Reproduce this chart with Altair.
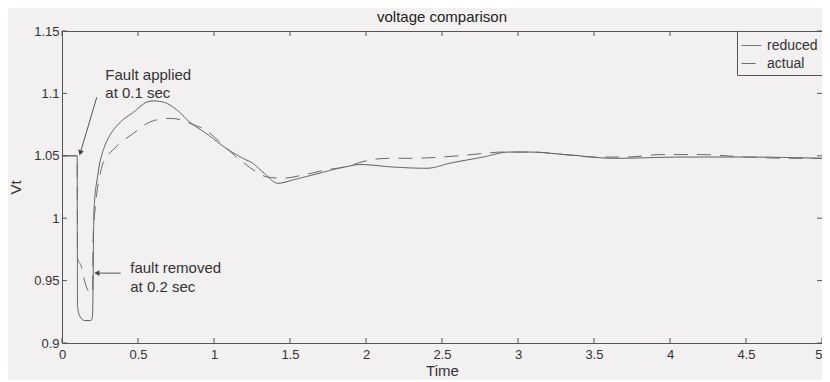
import altair as alt
import pandas as pd

# ---------------- data ----------------
t_reduced = [0, 0.1, 0.102, 0.11, 0.12, 0.15, 0.19, 0.2, 0.205, 0.209, 0.215, 0.23, 0.245,
             0.27, 0.3, 0.34, 0.384, 0.471, 0.558, 0.60, 0.667, 0.753, 0.841, 0.948, 1.08,
             1.19, 1.255, 1.33, 1.42, 1.53, 1.66, 1.86, 1.96, 2.18, 2.4, 2.55, 2.77, 2.94,
             3.07, 3.31, 3.64, 4.08, 4.51, 5.0]
v_reduced = [1.05, 1.05, 0.93, 0.924, 0.921, 0.918, 0.918, 0.921, 0.95, 1.0, 1.015, 1.03, 1.042,
             1.054, 1.063, 1.071, 1.077, 1.085, 1.093, 1.094, 1.093, 1.087, 1.077, 1.068, 1.056,
             1.048, 1.044, 1.036, 1.028, 1.031, 1.035, 1.041, 1.043, 1.041, 1.040, 1.044, 1.049, 1.053,
             1.053, 1.051, 1.048, 1.049, 1.049, 1.048]

t_actual = [0, 0.1, 0.102, 0.125, 0.16, 0.19, 0.2, 0.205, 0.22, 0.25, 0.28, 0.33, 0.37, 0.47,
            0.56, 0.63, 0.70, 0.78, 0.84, 0.94, 1.03, 1.11, 1.2, 1.28, 1.35, 1.45, 1.6, 1.75,
            1.86, 2.0, 2.15, 2.3, 2.5, 2.7, 2.9, 3.1, 3.3, 3.5, 3.7, 3.95, 4.2, 4.5, 4.8, 5.0]
v_actual = [1.05, 1.05, 0.968, 0.962, 0.945, 0.94, 0.94, 0.985, 1.01, 1.035, 1.047, 1.054, 1.059,
            1.068, 1.076, 1.079, 1.080, 1.079, 1.076, 1.071, 1.062, 1.053, 1.044, 1.037, 1.033,
            1.032, 1.035, 1.039, 1.041, 1.046, 1.048, 1.048, 1.049, 1.051, 1.053, 1.053, 1.051,
            1.049, 1.049, 1.051, 1.051, 1.049, 1.048, 1.048]

series_names = ["reduced", "actual"]
x_ticks = [0, 0.5, 1, 1.5, 2, 2.5, 3, 3.5, 4, 4.5, 5]
y_ticks = [0.9, 0.95, 1.0, 1.05, 1.1, 1.15]

note_text = ["Fault applied", "at 0.1 sec", "fault removed", "at 0.2 sec"]
note_t = [0.285, 0.285, 0.449, 0.449]
note_v = [1.115, 1.100, 0.960, 0.945]

arrow_t = [0.229, 0.386]
arrow_v = [1.097, 0.956]
arrow_t2 = [0.122, 0.235]
arrow_v2 = [1.053, 0.956]
arrow_angle = [196, 270]

# ---------------- build ----------------
W, H = 760, 312
BG = "#f2f0f0"
FONT = "Liberation Sans"
INK = "#333333"

df = pd.concat([
    pd.DataFrame({"Time": t_reduced, "Vt": v_reduced, "series": series_names[0]}),
    pd.DataFrame({"Time": t_actual, "Vt": v_actual, "series": series_names[1]}),
])

xscale = alt.Scale(domain=[0, 5], nice=False, zero=False)
yscale = alt.Scale(domain=[0.9, 1.15], nice=False, zero=False)

lines = alt.Chart(df).mark_line(strokeWidth=1, clip=True, interpolate="monotone").encode(
    x=alt.X("Time:Q", scale=xscale,
            axis=alt.Axis(values=x_ticks, format="~g", title="Time", tickSize=0, domain=False,
                          grid=False, labelPadding=5, labelFontSize=13, labelFont=FONT,
                          labelColor=INK, titleFont=FONT, titleFontSize=15,
                          titleFontWeight="normal", titleColor=INK, titlePadding=2,
                          labelFlush=False,
                          labelAlign=alt.ExprRef(expr="datum.value >= 5 ? 'right' : 'center'"))),
    y=alt.Y("Vt:Q", scale=yscale,
            axis=alt.Axis(values=y_ticks, format="~g", title="Vt", tickSize=0, domain=False,
                          grid=False, labelPadding=3, labelFontSize=13, labelFont=FONT,
                          labelColor=INK, titleFont=FONT, titleFontSize=15,
                          titleFontWeight="normal", titleColor=INK, titlePadding=10,
                          labelFlush=False)),
    color=alt.Color("series:N", scale=alt.Scale(domain=series_names, range=["#555555", "#6a6a6a"]),
                    legend=alt.Legend(title=None)),
    strokeDash=alt.StrokeDash("series:N",
                              scale=alt.Scale(domain=series_names, range=[[1, 0], [14, 9]]),
                              legend=alt.Legend(title=None)),
    order=alt.Order("Time:Q"),
)

xt = pd.DataFrame({"x": x_ticks})
yt = pd.DataFrame({"y": y_ticks})
tick_col = "#555555"
xtick_bot = alt.Chart(xt).mark_rule(color=tick_col, strokeWidth=1).encode(
    x=alt.X("x:Q", scale=xscale), y=alt.value(H), y2=alt.value(H - 5))
xtick_top = alt.Chart(xt).mark_rule(color=tick_col, strokeWidth=1).encode(
    x=alt.X("x:Q", scale=xscale), y=alt.value(0), y2=alt.value(5))
ytick_left = alt.Chart(yt).mark_rule(color=tick_col, strokeWidth=1).encode(
    y=alt.Y("y:Q", scale=yscale), x=alt.value(0), x2=alt.value(5))
ytick_right = alt.Chart(yt).mark_rule(color=tick_col, strokeWidth=1).encode(
    y=alt.Y("y:Q", scale=yscale), x=alt.value(W), x2=alt.value(W - 5))

notes = alt.Chart(pd.DataFrame({"t": note_t, "v": note_v, "txt": note_text})).mark_text(
    align="left", baseline="middle", font=FONT, fontSize=15, color=INK).encode(
    x=alt.X("t:Q", scale=xscale), y=alt.Y("v:Q", scale=yscale), text="txt:N")

adf = pd.DataFrame({"t": arrow_t, "v": arrow_v, "t2": arrow_t2, "v2": arrow_v2, "a": arrow_angle})
arrow_lines = alt.Chart(adf).mark_rule(color="#555555", strokeWidth=1).encode(
    x=alt.X("t:Q", scale=xscale), y=alt.Y("v:Q", scale=yscale), x2="t2:Q", y2="v2:Q")
heads = alt.Chart(adf).mark_point(shape="triangle", filled=True, size=35, color="#444444",
                                  opacity=1).encode(
    x=alt.X("t2:Q", scale=xscale), y=alt.Y("v2:Q", scale=yscale),
    angle=alt.Angle("a:Q", scale=None))

chart = alt.layer(lines, xtick_bot, xtick_top, ytick_left, ytick_right, notes, arrow_lines, heads).properties(
    width=W, height=H,
    title=alt.TitleParams("voltage comparison", font=FONT, fontSize=15, fontWeight="normal",
                          color="#222222", offset=0, anchor="middle"),
    background=BG,
    padding={"left": 54, "top": 23, "right": 0, "bottom": 37},
    autosize=alt.AutoSizeParams(type="none"),
).configure_view(stroke="#555555", strokeWidth=1).configure_legend(
    orient="none", legendX=675, legendY=0, strokeColor="#555555", fillColor=BG,
    padding=4, labelFont=FONT, labelFontSize=14, labelColor=INK, symbolType="stroke",
    symbolSize=400, symbolStrokeWidth=1, rowPadding=0, labelOffset=5,
)

chart.save("out.html", embed_options={"renderer": "svg", "actions": False})
